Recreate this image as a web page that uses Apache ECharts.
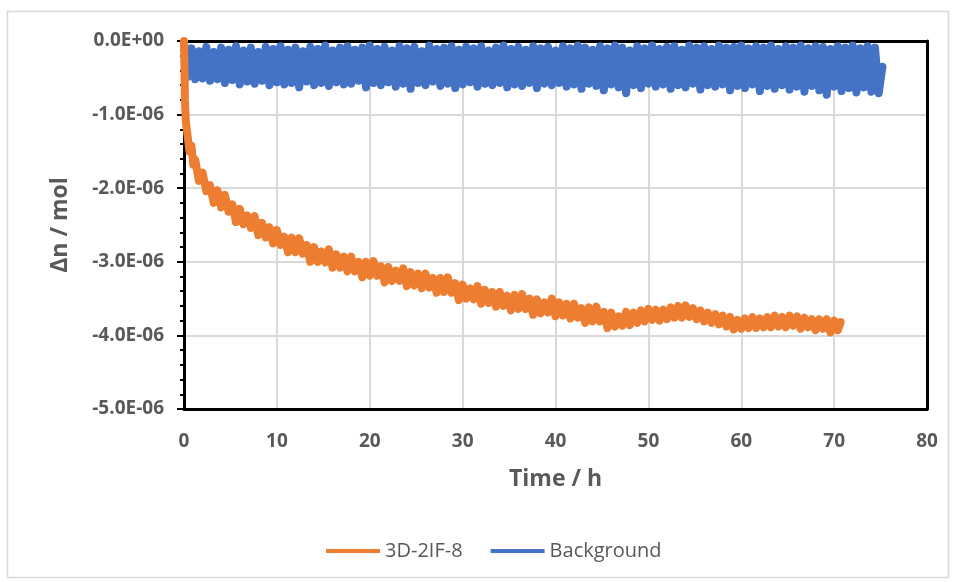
<!DOCTYPE html>
<html>
<head>
<meta charset="utf-8">
<script src="https://cdn.jsdelivr.net/npm/echarts@6/dist/echarts.min.js"></script>
<style>
html,body{margin:0;padding:0;background:#fff;}
#chart{width:957px;height:582px;}
</style>
</head>
<body>
<div id="chart"></div>
<script>
// Values in units of 1E-06 mol, time in hours
const seriesNames = ['3D-2IF-8', 'Background'];
const xTicks = [0, 10, 20, 30, 40, 50, 60, 70, 80];
const yTicks = [0, -1e-6, -2e-6, -3e-6, -4e-6, -5e-6];

const sampleData = [
[0,0],[0.05,-0.35],[0.1,-0.8],[0.2,-1.1],[0.4,-1.3],[0.6,-1.5],[0.8,-1.42],[1.0,-1.68],
[1.2,-1.61],[1.6,-1.90],[2.0,-1.79],[2.4,-2.04],[2.8,-1.96],[3.2,-2.20],[3.6,-2.03],[4.0,-2.26],
[4.4,-2.09],[4.8,-2.32],[5.2,-2.22],[5.6,-2.46],[6.0,-2.28],[6.4,-2.49],[6.8,-2.37],[7.2,-2.54],
[7.6,-2.38],[8.0,-2.64],[8.4,-2.47],[8.8,-2.67],[9.2,-2.53],[9.6,-2.75],[10.0,-2.57],[10.4,-2.77],
[10.8,-2.66],[11.2,-2.87],[11.6,-2.67],[12.0,-2.87],[12.4,-2.68],[12.8,-2.89],[13.2,-2.77],[13.6,-3.00],
[14.0,-2.80],[14.4,-3.00],[14.8,-2.86],[15.2,-3.01],[15.6,-2.83],[16.0,-3.08],[16.4,-2.90],[16.8,-3.08],
[17.2,-2.93],[17.6,-3.13],[18.0,-2.93],[18.4,-3.13],[18.8,-3.00],[19.2,-3.21],[19.6,-3.00],[20.0,-3.19],
[20.4,-2.99],[20.8,-3.19],[21.2,-3.06],[21.6,-3.28],[22.0,-3.07],[22.4,-3.26],[22.8,-3.12],[23.2,-3.26],
[23.6,-3.09],[24.0,-3.33],[24.4,-3.14],[24.8,-3.32],[25.2,-3.16],[25.6,-3.36],[26.0,-3.16],[26.4,-3.35],
[26.8,-3.22],[27.2,-3.42],[27.6,-3.22],[28.0,-3.41],[28.4,-3.21],[28.8,-3.42],[29.2,-3.29],[29.6,-3.52],
[30.0,-3.31],[30.4,-3.50],[30.8,-3.36],[31.2,-3.51],[31.6,-3.33],[32.0,-3.57],[32.4,-3.38],[32.8,-3.56],
[33.2,-3.41],[33.6,-3.61],[34.0,-3.41],[34.4,-3.60],[34.8,-3.46],[35.2,-3.66],[35.6,-3.45],[36.0,-3.64],
[36.4,-3.44],[36.8,-3.64],[37.2,-3.50],[37.6,-3.72],[38.0,-3.51],[38.4,-3.70],[38.8,-3.55],[39.2,-3.69],
[39.6,-3.50],[40.0,-3.74],[40.4,-3.55],[40.8,-3.73],[41.2,-3.57],[41.6,-3.77],[42.0,-3.57],[42.4,-3.76],
[42.8,-3.63],[43.2,-3.83],[43.6,-3.62],[44.0,-3.81],[44.4,-3.61],[44.8,-3.81],[45.2,-3.68],[45.6,-3.90],
[46.0,-3.69],[46.4,-3.88],[46.8,-3.74],[47.2,-3.87],[47.6,-3.68],[48.0,-3.86],[48.4,-3.69],[48.8,-3.83],
[49.2,-3.66],[49.6,-3.81],[50.0,-3.64],[50.4,-3.79],[50.8,-3.65],[51.2,-3.80],[51.6,-3.65],[52.0,-3.78],
[52.4,-3.62],[52.8,-3.76],[53.2,-3.60],[53.6,-3.76],[54.0,-3.59],[54.4,-3.75],[54.8,-3.63],[55.2,-3.78],
[55.6,-3.66],[56.0,-3.81],[56.4,-3.69],[56.8,-3.83],[57.2,-3.71],[57.6,-3.85],[58.0,-3.73],[58.4,-3.88],
[58.8,-3.75],[59.2,-3.92],[59.6,-3.79],[60.0,-3.91],[60.4,-3.77],[60.8,-3.90],[61.2,-3.75],[61.6,-3.90],
[62.0,-3.77],[62.4,-3.89],[62.8,-3.75],[63.2,-3.89],[63.6,-3.73],[64.0,-3.88],[64.4,-3.75],[64.8,-3.89],
[65.2,-3.73],[65.6,-3.87],[66.0,-3.74],[66.4,-3.91],[66.8,-3.76],[67.2,-3.89],[67.6,-3.78],[68.0,-3.93],
[68.4,-3.78],[68.8,-3.91],[69.2,-3.78],[69.6,-3.96],[70.0,-3.80],[70.4,-3.93],[70.7,-3.82]
];

const backgroundData = [
[0,-0.02],[0.4,-0.49],[0.8,-0.10],[1.2,-0.52],[1.6,-0.14],[2.0,-0.51],[2.4,-0.08],[2.8,-0.54],
[3.2,-0.15],[3.6,-0.52],[4.0,-0.09],[4.4,-0.57],[4.8,-0.12],[5.2,-0.53],[5.6,-0.07],[6.0,-0.59],
[6.4,-0.13],[6.8,-0.55],[7.2,-0.09],[7.6,-0.58],[8.0,-0.15],[8.4,-0.54],[8.8,-0.08],[9.2,-0.60],
[9.6,-0.11],[10.0,-0.56],[10.4,-0.07],[10.8,-0.59],[11.2,-0.12],[11.6,-0.57],[12.0,-0.09],[12.4,-0.63],
[12.8,-0.14],[13.2,-0.55],[13.6,-0.08],[14.0,-0.60],[14.4,-0.11],[14.8,-0.57],[15.2,-0.06],[15.6,-0.61],
[16.0,-0.13],[16.4,-0.56],[16.8,-0.09],[17.2,-0.59],[17.6,-0.07],[18.0,-0.58],[18.4,-0.12],[18.8,-0.54],
[19.2,-0.09],[19.6,-0.63],[20.0,-0.06],[20.4,-0.57],[20.8,-0.11],[21.2,-0.60],[21.6,-0.08],[22.0,-0.56],
[22.4,-0.13],[22.8,-0.62],[23.2,-0.07],[23.6,-0.58],[24.0,-0.10],[24.4,-0.65],[24.8,-0.08],[25.2,-0.57],
[25.6,-0.14],[26.0,-0.60],[26.4,-0.06],[26.8,-0.55],[27.2,-0.11],[27.6,-0.61],[28.0,-0.09],[28.4,-0.58],
[28.8,-0.07],[29.2,-0.64],[29.6,-0.12],[30.0,-0.59],[30.4,-0.08],[30.8,-0.56],[31.2,-0.10],[31.6,-0.62],
[32.0,-0.07],[32.4,-0.58],[32.8,-0.13],[33.2,-0.60],[33.6,-0.09],[34.0,-0.57],[34.4,-0.06],[34.8,-0.63],
[35.2,-0.11],[35.6,-0.59],[36.0,-0.08],[36.4,-0.61],[36.8,-0.12],[37.2,-0.57],[37.6,-0.07],[38.0,-0.64],
[38.4,-0.10],[38.8,-0.58],[39.2,-0.08],[39.6,-0.60],[40.0,-0.13],[40.4,-0.57],[40.8,-0.07],[41.2,-0.62],
[41.6,-0.10],[42.0,-0.59],[42.4,-0.06],[42.8,-0.65],[43.2,-0.09],[43.6,-0.58],[44.0,-0.12],[44.4,-0.61],
[44.8,-0.07],[45.2,-0.67],[45.6,-0.10],[46.0,-0.59],[46.4,-0.06],[46.8,-0.63],[47.2,-0.09],[47.6,-0.71],
[48.0,-0.13],[48.4,-0.60],[48.8,-0.07],[49.2,-0.64],[49.6,-0.10],[50.0,-0.58],[50.4,-0.06],[50.8,-0.62],
[51.2,-0.11],[51.6,-0.59],[52.0,-0.08],[52.4,-0.65],[52.8,-0.07],[53.2,-0.60],[53.6,-0.12],[54.0,-0.63],
[54.4,-0.06],[54.8,-0.58],[55.2,-0.09],[55.6,-0.66],[56.0,-0.07],[56.4,-0.60],[56.8,-0.11],[57.2,-0.62],
[57.6,-0.06],[58.0,-0.59],[58.4,-0.09],[58.8,-0.67],[59.2,-0.08],[59.6,-0.61],[60.0,-0.06],[60.4,-0.64],
[60.8,-0.10],[61.2,-0.59],[61.6,-0.07],[62.0,-0.68],[62.4,-0.09],[62.8,-0.61],[63.2,-0.06],[63.6,-0.65],
[64.0,-0.11],[64.4,-0.60],[64.8,-0.07],[65.2,-0.66],[65.6,-0.09],[66.0,-0.62],[66.4,-0.06],[66.8,-0.69],
[67.2,-0.10],[67.6,-0.61],[68.0,-0.07],[68.4,-0.67],[68.8,-0.08],[69.2,-0.73],[69.6,-0.11],[70.0,-0.62],
[70.4,-0.07],[70.8,-0.68],[71.2,-0.09],[71.6,-0.64],[72.0,-0.06],[72.4,-0.70],[72.8,-0.10],[73.2,-0.63],
[73.6,-0.07],[74.0,-0.69],[74.4,-0.09],[74.8,-0.71],[75.2,-0.35]
];

const UNIT = 1e-6;
const toMol = arr => arr.map(p => [p[0], p[1] * UNIT]);

function sci(v) {
  if (Math.abs(v) < 1e-15) return '0.0E+00';
  const e = Math.floor(Math.log10(Math.abs(v)) + 1e-9);
  const m = v / Math.pow(10, e);
  return m.toFixed(1) + 'E' + (e < 0 ? '-' : '+') + String(Math.abs(e)).padStart(2, '0');
}

const FONT = 'Open Sans';
const GRAY = '#595959';
const frameAxis = {
  show: true,
  axisLine: {show: true, onZero: false, lineStyle: {color: '#000', width: 3}},
  axisTick: {show: false}, axisLabel: {show: false}, splitLine: {show: false}
};

const chart = echarts.init(document.getElementById('chart'), null, {renderer: 'canvas'});
chart.setOption({
  animation: false,
  backgroundColor: '#ffffff',
  graphic: [{
    type: 'rect', silent: true, z: -10,
    shape: {x: 7.5, y: 11.5, width: 941, height: 566},
    style: {fill: 'none', stroke: '#d9d9d9', lineWidth: 1.5}
  }],
  grid: {left: 184, right: 30, top: 41, bottom: 173},
  legend: {
    data: seriesNames,
    left: 321, top: 534,
    icon: 'rect',
    itemWidth: 54, itemHeight: 4, itemGap: 28,
    textStyle: {fontFamily: FONT, fontSize: 20, color: GRAY, lineHeight: 24}
  },
  xAxis: [{
    type: 'value', min: 0, max: 80, interval: 10,
    name: 'Time / h', nameLocation: 'middle', nameGap: 59,
    nameTextStyle: {fontFamily: FONT, fontSize: 23, fontWeight: 'bold', color: GRAY},
    axisLine: {show: true, onZero: false, lineStyle: {color: '#000', width: 3}},
    axisTick: {show: false},
    axisLabel: {fontFamily: FONT, fontSize: 19, fontWeight: 'bold', color: GRAY, margin: 23},
    splitLine: {show: true, lineStyle: {color: '#d9d9d9', width: 2}}
  }, Object.assign({type: 'value', position: 'top', min: 0, max: 80}, frameAxis)],
  yAxis: [{
    type: 'value', min: -5e-6, max: 0, interval: 1e-6,
    name: 'Δn / mol', nameLocation: 'middle', nameGap: 112, nameRotate: 90,
    nameTextStyle: {fontFamily: FONT, fontSize: 23, fontWeight: 'bold', color: GRAY},
    axisLine: {show: true, onZero: false, lineStyle: {color: '#000', width: 3}},
    axisTick: {show: true, inside: false, length: 7, lineStyle: {color: '#000', width: 2}},
    minorTick: {show: true, splitNumber: 5, length: 4, lineStyle: {color: '#000', width: 2}},
    axisLabel: {fontFamily: FONT, fontSize: 19, fontWeight: 'bold', color: GRAY, margin: 20,
      formatter: v => sci(v)},
    splitLine: {show: true, lineStyle: {color: '#d9d9d9', width: 2}}
  }, Object.assign({type: 'value', position: 'right', min: -5e-6, max: 0}, frameAxis)],
  series: [
    {
      name: seriesNames[1], type: 'line', data: toMol(backgroundData),
      xAxisIndex: 0, yAxisIndex: 0,
      symbol: 'none', smooth: false, z: 2,
      lineStyle: {color: '#4472C4', width: 8, join: 'round', cap: 'round'},
      itemStyle: {color: '#4472C4'}
    },
    {
      name: seriesNames[0], type: 'line', data: toMol(sampleData),
      xAxisIndex: 0, yAxisIndex: 0,
      symbol: 'none', smooth: false, z: 3,
      lineStyle: {color: '#ED7D31', width: 8, join: 'round', cap: 'round'},
      itemStyle: {color: '#ED7D31'}
    }
  ]
});
</script>
</body>
</html>
